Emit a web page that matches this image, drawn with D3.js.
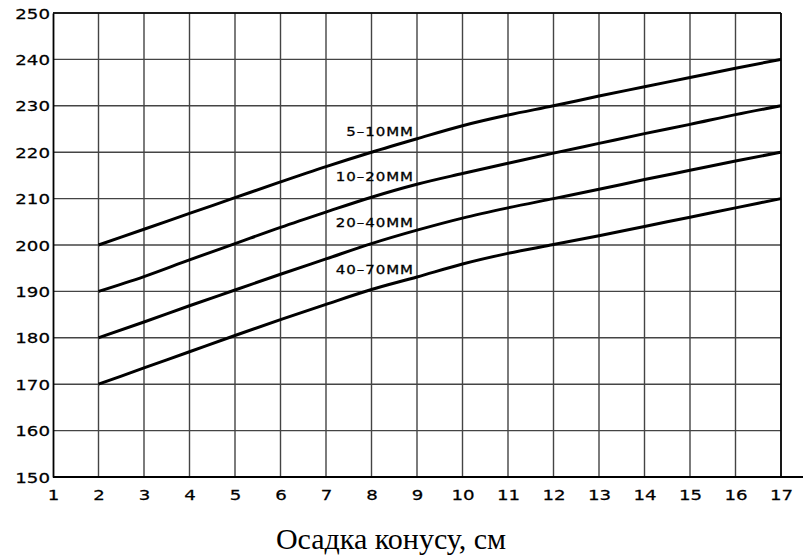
<!DOCTYPE html>
<html>
<head>
<meta charset="utf-8">
<script src="https://cdn.jsdelivr.net/npm/d3@7"></script>
<style>
  html, body { margin: 0; padding: 0; background: #fff; }
  svg { display: block; }
</style>
</head>
<body>
<svg id="chart" width="803" height="556"></svg>
<script>
// ---- data ----
const slump = [2, 3, 4, 5, 6, 7, 8, 9, 10, 11, 12, 13, 14, 15, 16, 17];
const seriesNames = ["5–10ММ", "10–20ММ", "20–40ММ", "40–70ММ"];
const water5_10  = [200, 203.4, 206.8, 210.2, 213.6, 216.9, 220.0, 222.9, 225.7, 228.0, 230.0, 232.1, 234.1, 236.1, 238.1, 240.0];
const water10_20 = [190, 193.2, 196.8, 200.3, 203.8, 207.1, 210.3, 213.1, 215.4, 217.6, 219.8, 221.9, 224.0, 226.0, 228.1, 230.0];
const water20_40 = [180, 183.4, 186.9, 190.3, 193.7, 197.0, 200.3, 203.2, 205.8, 208.0, 210.0, 212.0, 214.1, 216.1, 218.1, 220.0];
const water40_70 = [170, 173.5, 177.0, 180.5, 183.9, 187.2, 190.4, 193.1, 195.9, 198.2, 200.1, 202.0, 204.0, 206.0, 208.0, 210.0];
const xTicks = [1, 2, 3, 4, 5, 6, 7, 8, 9, 10, 11, 12, 13, 14, 15, 16, 17];
const yTicks = [150, 160, 170, 180, 190, 200, 210, 220, 230, 240, 250];
const xTitle = "Осадка конусу, см";
const labelAtSlump = 9;

const allSeries = [water5_10, water10_20, water20_40, water40_70];

// ---- layout ----
const svg = d3.select("#chart");
const mLeft = 53, mRight = 781, mTop = 13, mBottom = 477;
const x = d3.scaleLinear().domain([1, 17]).range([mLeft, mRight]);
const y = d3.scaleLinear().domain([150, 250]).range([mBottom, mTop]);

const tickFont = "'DejaVu Sans', sans-serif";
const sx = 1.3; // horizontal stretch of the wide tick lettering

// grid
const grid = svg.append("g").attr("stroke", "#444").attr("stroke-width", 1.4);
grid.selectAll("line.v").data(xTicks.slice(1)).join("line")
  .attr("class", "v")
  .attr("x1", d => x(d)).attr("x2", d => x(d))
  .attr("y1", mTop).attr("y2", mBottom);
grid.selectAll("line.h").data(yTicks.slice(1)).join("line")
  .attr("class", "h")
  .attr("x1", mLeft).attr("x2", mRight)
  .attr("y1", d => y(d)).attr("y2", d => y(d));

// axes
const yAxis = d3.axisLeft(y).tickValues(yTicks).tickSize(0).tickPadding(4);
const yg = svg.append("g").attr("transform", `translate(${mLeft},0)`).call(yAxis);
yg.select(".domain").attr("stroke", "#000").attr("stroke-width", 1.8);
yg.selectAll("text")
  .attr("font-family", tickFont).attr("font-size", 14).attr("fill", "#000")
  .attr("stroke", "#000").attr("stroke-width", 0.25)
  .attr("x", -3 / sx).attr("dy", "0.36em")
  .attr("transform", `scale(${sx},1)`);

const xAxis = d3.axisBottom(x).tickValues(xTicks).tickSize(0).tickPadding(0);
const xg = svg.append("g").attr("transform", `translate(0,${mBottom})`).call(xAxis);
xg.select(".domain").remove();
xg.selectAll(".tick text")
  .attr("font-family", tickFont).attr("font-size", 14).attr("fill", "#000")
  .attr("stroke", "#000").attr("stroke-width", 0.25)
  .attr("x", 0).attr("y", 23).attr("dy", 0)
  .attr("transform", `scale(${sx},1)`);
// baseline extends past the frame
svg.append("line").attr("x1", mLeft).attr("x2", 803).attr("y1", mBottom).attr("y2", mBottom)
  .attr("stroke", "#000").attr("stroke-width", 1.8);
// frame top & right
svg.append("line").attr("x1", mLeft).attr("x2", mRight).attr("y1", mTop).attr("y2", mTop)
  .attr("stroke", "#000").attr("stroke-width", 1.6);
svg.append("line").attr("x1", mRight).attr("x2", mRight).attr("y1", mTop).attr("y2", mBottom)
  .attr("stroke", "#000").attr("stroke-width", 1.6);

// curves
const line = d3.line().x((d, i) => x(slump[i])).y(d => y(d)).curve(d3.curveMonotoneX);
svg.append("g").selectAll("path").data(allSeries).join("path")
  .attr("d", d => line(d))
  .attr("fill", "none").attr("stroke", "#000").attr("stroke-width", 3)
  .attr("stroke-linecap", "butt");

// curve labels
const li = slump.indexOf(labelAtSlump);
svg.append("g").selectAll("text").data(allSeries).join("text")
  .attr("transform", d => `translate(${x(labelAtSlump) - 3},${y(d[li]) - 3}) scale(1.2,1)`)
  .attr("text-anchor", "end")
  .attr("font-family", tickFont).attr("font-size", 12.5)
  .attr("letter-spacing", 0.8)
  .attr("fill", "#000").attr("stroke", "#000").attr("stroke-width", 0.3)
  .text((d, i) => seriesNames[i]);

// axis title
svg.append("text")
  .attr("x", 391).attr("y", 549)
  .attr("text-anchor", "middle")
  .attr("font-family", "'Liberation Serif', 'Times New Roman', serif")
  .attr("font-size", 30).attr("fill", "#000")
  .text(xTitle);
</script>
</body>
</html>
